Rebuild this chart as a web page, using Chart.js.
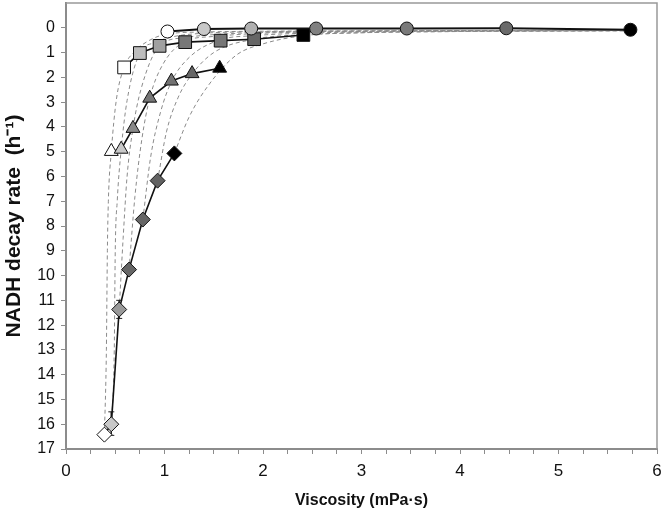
<!DOCTYPE html>
<html>
<head>
<meta charset="utf-8">
<script src="https://cdn.jsdelivr.net/npm/chart.js@4.4.1/dist/chart.umd.min.js"></script>
<style>
  html, body { margin: 0; padding: 0; background: #fff; }
  #wrap { width: 664px; height: 516px; }
</style>
</head>
<body>
<div id="wrap"><canvas id="nadhChart" width="664" height="516"></canvas></div>
<script>
// measured points, one series per marker shape
const circle_x   = [1.03, 1.40, 1.88, 2.54, 3.46, 4.47, 5.73];
const circle_y   = [0.15, 0.05, 0.03, 0.03, 0.03, 0.02, 0.08];
const square_x   = [0.59, 0.75, 0.95, 1.21, 1.57, 1.91, 2.41];
const square_y   = [1.60, 1.02, 0.73, 0.58, 0.52, 0.46, 0.29];
const triangle_x = [0.46, 0.56, 0.68, 0.85, 1.07, 1.28, 1.56];
const triangle_y = [4.99, 4.90, 4.06, 2.84, 2.15, 1.85, 1.63];
const diamond_x  = [0.39, 0.46, 0.54, 0.64, 0.78, 0.93, 1.10];
const diamond_y  = [16.42, 16.0, 11.37, 9.76, 7.74, 6.17, 5.07];

// error bars (x, low, high)
const err_x    = [0.46, 0.54];
const err_low  = [15.5, 11.0];
const err_high = [16.45, 11.73];

// dashed curves, one per marker shade
const curve0_x = [0.39, 0.41, 0.42, 0.43, 0.46, 0.51, 0.59, 0.70, 0.85, 1.03, 1.4, 2.0, 3.0, 5.73];
const curve0_y = [16.42, 13, 9, 7, 5.0, 2.94, 1.6, 0.95, 0.5, 0.25, 0.17, 0.14, 0.12, 0.1];
const curve1_x = [0.46, 0.49, 0.50, 0.52, 0.56, 0.62, 0.75, 0.90, 1.1, 1.4, 2.0, 3.0, 5.73];
const curve1_y = [16.0, 13, 9, 7, 4.92, 2.94, 1.02, 0.6, 0.35, 0.22, 0.16, 0.13, 0.1];
const curve2_x = [0.54, 0.58, 0.62, 0.68, 0.76, 0.95, 1.2, 1.6, 2.2, 3.0, 5.73];
const curve2_y = [11.37, 8.5, 6.0, 4.06, 2.5, 0.73, 0.4, 0.25, 0.17, 0.14, 0.11];
const curve3_x = [0.64, 0.70, 0.77, 0.85, 0.98, 1.21, 1.5, 2.0, 2.6, 3.5, 5.73];
const curve3_y = [9.76, 6.8, 4.5, 2.84, 1.5, 0.55, 0.35, 0.22, 0.17, 0.14, 0.11];
const curve4_x = [0.78, 0.86, 0.96, 1.07, 1.25, 1.57, 1.9, 2.4, 3.0, 4.0, 5.73];
const curve4_y = [7.74, 5.2, 3.4, 2.18, 1.2, 0.48, 0.32, 0.22, 0.17, 0.14, 0.11];
const curve5_x = [0.93, 1.02, 1.14, 1.28, 1.5, 1.91, 2.4, 3.0, 4.0, 5.73];
const curve5_y = [6.17, 4.2, 2.8, 1.87, 1.0, 0.46, 0.28, 0.2, 0.15, 0.12];
const curve6_x = [1.10, 1.25, 1.45, 1.73, 2.0, 2.41, 3.0, 4.0, 5.73];
const curve6_y = [5.07, 3.6, 2.3, 1.1, 0.65, 0.32, 0.2, 0.15, 0.12];

const x_ticks = [0, 1, 2, 3, 4, 5, 6];
const y_ticks = [0, 1, 2, 3, 4, 5, 6, 7, 8, 9, 10, 11, 12, 13, 14, 15, 16, 17];

// marker shades, white -> black
const circle_fill   = ["#ffffff", "#c8c8c8", "#b0b0b0", "#808080", "#7a7a7a", "#6a6a6a", "#000000"];
const square_fill   = ["#ffffff", "#bdbdbd", "#a0a0a0", "#777777", "#777777", "#666666", "#000000"];
const triangle_fill = ["#ffffff", "#c8c8c8", "#888888", "#777777", "#727272", "#666666", "#000000"];
const diamond_fill  = ["#ffffff", "#c8c8c8", "#999999", "#666666", "#666666", "#626262", "#000000"];

const narrow = "'Liberation Sans Narrow', 'Liberation Sans', Arial, sans-serif";

function pts(xs, ys) {
  return xs.map((x, i) => ({x: x, y: ys[i]}));
}

function markerSet(xs, ys, style, fills, radius, lineWidth) {
  return {
    data: pts(xs, ys),
    showLine: true,
    borderColor: "#111",
    borderWidth: lineWidth,
    pointStyle: style,
    pointRadius: radius,
    pointBackgroundColor: fills,
    pointBorderColor: "#111",
    pointBorderWidth: 1,
    order: 0
  };
}

function dashedSet(xs, ys) {
  return {
    data: pts(xs, ys),
    showLine: true,
    borderColor: "#8a8a8a",
    borderWidth: 1,
    borderDash: [4, 3],
    cubicInterpolationMode: "monotone",
    pointRadius: 0,
    order: 2
  };
}

function errSet(i) {
  return {
    data: [{x: err_x[i], y: err_low[i]}, {x: err_x[i], y: err_high[i]}],
    showLine: true,
    borderColor: "#222",
    borderWidth: 1,
    pointStyle: "line",
    pointRadius: 3,
    pointBorderColor: "#222",
    pointBorderWidth: 1,
    order: 1
  };
}

// grey frame on top and right of the plot area
const framePlugin = {
  id: "frame",
  beforeDatasetsDraw(chart) {
    const a = chart.chartArea, c = chart.ctx;
    c.save();
    c.strokeStyle = "#999999";
    c.lineWidth = 1.5;
    c.beginPath();
    c.moveTo(a.left, a.top);
    c.lineTo(a.right, a.top);
    c.lineTo(a.right, a.bottom);
    c.stroke();
    c.restore();
  }
};

const ctx = document.getElementById("nadhChart").getContext("2d");
const nadhChart = new Chart(ctx, {
  type: "scatter",
  data: {
    datasets: [
      markerSet(circle_x, circle_y, "circle", circle_fill, 6.5, 2),
      markerSet(square_x, square_y, "rect", square_fill, 9, 1.6),
      markerSet(triangle_x, triangle_y, "triangle", triangle_fill, 8, 1.6),
      markerSet(diamond_x, diamond_y, "rectRot", diamond_fill, 7.5, 1.6),
      errSet(0), errSet(1),
      dashedSet(curve0_x, curve0_y),
      dashedSet(curve1_x, curve1_y),
      dashedSet(curve2_x, curve2_y),
      dashedSet(curve3_x, curve3_y),
      dashedSet(curve4_x, curve4_y),
      dashedSet(curve5_x, curve5_y),
      dashedSet(curve6_x, curve6_y)
    ]
  },
  options: {
    responsive: false,
    animation: false,
    devicePixelRatio: 1,
    layout: { autoPadding: false, padding: { top: 3, right: 7, bottom: 0, left: 0 } },
    plugins: {
      legend: { display: false },
      tooltip: { enabled: false }
    },
    scales: {
      x: {
        type: "linear",
        min: 0,
        max: 6,
        afterFit: (s) => { s.height = 67; s.paddingLeft = 0; s.paddingRight = 0; },
        afterBuildTicks: (s) => {
          // minor ticks every quarter, labels only on whole numbers
          const t = [];
          for (let i = 0; i <= 24; i++) t.push({value: i / 4});
          s.ticks = t;
        },
        ticks: {
          autoSkip: false,
          maxRotation: 0,
          padding: 7,
          color: "#111",
          font: { family: narrow, size: 17 },
          callback: (v) => x_ticks.includes(v) ? String(v) : ""
        },
        grid: { drawOnChartArea: false, tickLength: 5, tickColor: "#8c8c8c", tickWidth: 1 },
        border: { color: "#8c8c8c", width: 2 },
        title: {
          display: true,
          text: "Viscosity (mPa·s)",
          color: "#111",
          font: { family: narrow, size: 16, weight: "bold" },
          padding: { top: 0, bottom: 6 }
        }
      },
      y: {
        type: "linear",
        reverse: true,
        min: -1,
        max: 17,
        afterFit: (s) => { s.width = 66; s.paddingTop = 0; s.paddingBottom = 0; },
        afterBuildTicks: (s) => {
          s.ticks = y_ticks.map((v) => ({value: v}));
        },
        ticks: {
          autoSkip: false,
          padding: 6,
          color: "#111",
          font: { family: narrow, size: 16 }
        },
        grid: { drawOnChartArea: false, tickLength: 5, tickColor: "#8c8c8c", tickWidth: 1 },
        border: { color: "#8c8c8c", width: 2 },
        title: {
          display: true,
          text: "NADH decay rate  (h\u207B\u00B9)",
          color: "#111",
          font: { family: "'Liberation Sans', Arial, sans-serif", size: 21, weight: "bold" },
          padding: { top: 2, bottom: 0 }
        }
      }
    }
  },
  plugins: [framePlugin]
});
</script>
</body>
</html>
